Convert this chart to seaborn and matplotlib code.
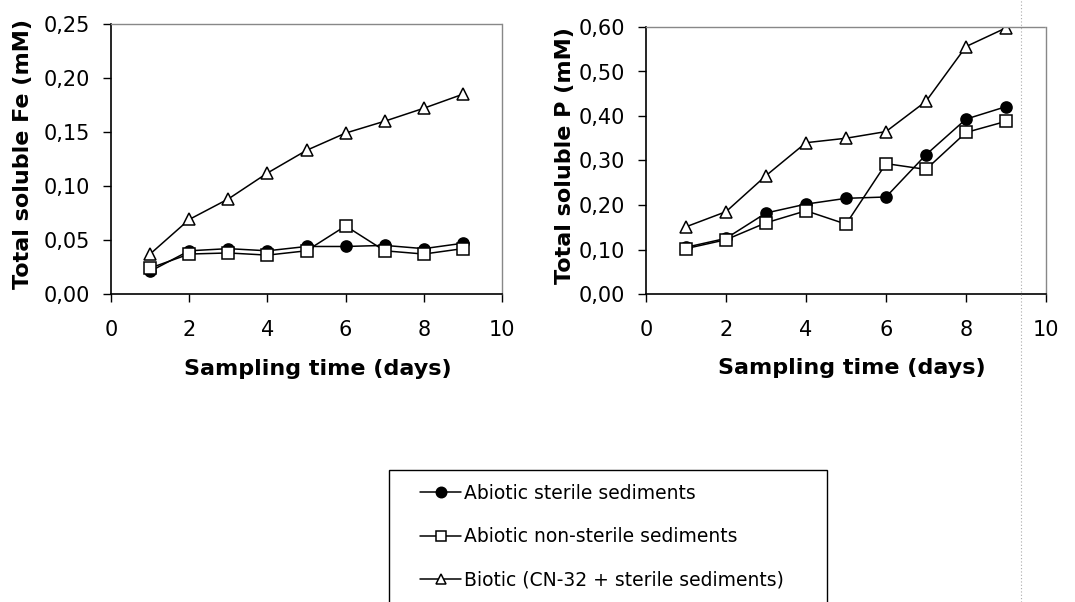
import matplotlib
matplotlib.use("Agg")
import matplotlib.pyplot as plt
import seaborn as sns
import pandas as pd
from matplotlib.ticker import FuncFormatter, MultipleLocator
from matplotlib.lines import Line2D
from matplotlib.patches import Rectangle

days = [1, 2, 3, 4, 5, 6, 7, 8, 9]
series_names = ["Abiotic sterile sediments",
                "Abiotic non-sterile sediments",
                "Biotic (CN-32 + sterile sediments)"]

fe_sterile = [0.021, 0.040, 0.042, 0.040, 0.044, 0.044, 0.045, 0.042, 0.047]
fe_nonsterile = [0.024, 0.037, 0.038, 0.036, 0.040, 0.063, 0.040, 0.037, 0.042]
fe_biotic = [0.037, 0.069, 0.088, 0.112, 0.133, 0.149, 0.160, 0.172, 0.185]

p_sterile = [0.105, 0.125, 0.182, 0.202, 0.215, 0.218, 0.313, 0.393, 0.421]
p_nonsterile = [0.102, 0.122, 0.160, 0.187, 0.157, 0.293, 0.280, 0.363, 0.388]
p_biotic = [0.151, 0.185, 0.266, 0.340, 0.350, 0.365, 0.433, 0.556, 0.598]

sns.set_theme(style="white")
plt.rcParams['font.family'] = ['DejaVu Sans']
plt.rcParams['text.color'] = 'black'
plt.rcParams['axes.labelcolor'] = 'black'
plt.rcParams['xtick.color'] = 'black'
plt.rcParams['ytick.color'] = 'black'

styles = {
    series_names[0]: dict(marker="o", mfc="black"),
    series_names[1]: dict(marker="s", mfc="white"),
    series_names[2]: dict(marker="^", mfc="white"),
}

W, H = 1075, 602
fig = plt.figure(figsize=(W / 100, H / 100), dpi=100)
ax1 = fig.add_axes([111/W, 1-294/H, (502-111)/W, (294-24)/H])
ax2 = fig.add_axes([646/W, 1-294/H, (1046-646)/W, (294-27)/H])

def draw(ax, data, ylim, ystep, ylabel, ylab_x, xlab_x):
    for name, vals in zip(series_names, data):
        df = pd.DataFrame({"day": days, "val": vals})
        st = styles[name]
        sns.lineplot(data=df, x="day", y="val", ax=ax, color="black", lw=1.1,
                     marker=st["marker"], markersize=8,
                     markerfacecolor=st["mfc"], markeredgecolor="black",
                     markeredgewidth=1.1, label=name, legend=False)
    ax.set_xlim(0, 10)
    ax.set_ylim(*ylim)
    ax.xaxis.set_major_locator(MultipleLocator(2))
    ax.yaxis.set_major_locator(MultipleLocator(ystep))
    ax.yaxis.set_major_formatter(FuncFormatter(lambda v, p: f"{v:.2f}".replace(".", ",")))
    ax.tick_params(axis="both", direction="out", length=6, width=1, labelsize=15,
                   colors="black", bottom=True, left=True)
    ax.tick_params(axis="x", pad=13)
    ax.tick_params(axis="y", pad=9)
    for s in ["left", "bottom"]:
        ax.spines[s].set_color("black")
        ax.spines[s].set_linewidth(1.2)
    for s in ["top", "right"]:
        ax.spines[s].set_color("#888888")
        ax.spines[s].set_linestyle((0, (1, 1)))
        ax.spines[s].set_linewidth(1.0)
    ax.set_xlabel("Sampling time (days)", fontsize=16, fontweight="bold")
    ax.set_ylabel(ylabel, fontsize=16, fontweight="bold")
    ax.yaxis.set_label_coords(ylab_x, 0.52)
    ax.xaxis.set_label_coords(xlab_x, -0.278)
    ax.xaxis.label.set_va("center")
    ax.yaxis.label.set_va("center")
    ax.grid(False)

draw(ax1, [fe_sterile, fe_nonsterile, fe_biotic], (0, 0.25), 0.05,
     "Total soluble Fe (mM)", (23-111)/391, (318-111)/391)
draw(ax2, [p_sterile, p_nonsterile, p_biotic], (0, 0.60), 0.10,
     "Total soluble P (mM)", (565-646)/400, (852-646)/400)

# legend box (extends below the figure edge)
fig.add_artist(Rectangle((389/W, -0.05), (827-389)/W, 0.05 + (1-470/H),
                         transform=fig.transFigure, fill=False,
                         edgecolor="black", lw=1.0))
handles = [Line2D([0], [0], color="black", lw=1.1, marker=styles[n]["marker"],
                  markersize=7.5, markerfacecolor=styles[n]["mfc"],
                  markeredgecolor="black", markeredgewidth=1.1) for n in series_names]
leg = fig.legend(handles, series_names, loc="upper left",
                 bbox_to_anchor=(420/W, 1-484/H), frameon=False,
                 fontsize=13.5, labelspacing=1.3, handlelength=2.2, handletextpad=0.15,
                 borderpad=0, borderaxespad=0)

fig.add_artist(Line2D([1021/W, 1021/W], [0, 1], transform=fig.transFigure,
                      color="#aaaaaa", lw=0.8, linestyle=(0, (1, 2))))

fig.savefig("out.png", dpi=100, facecolor="white")
